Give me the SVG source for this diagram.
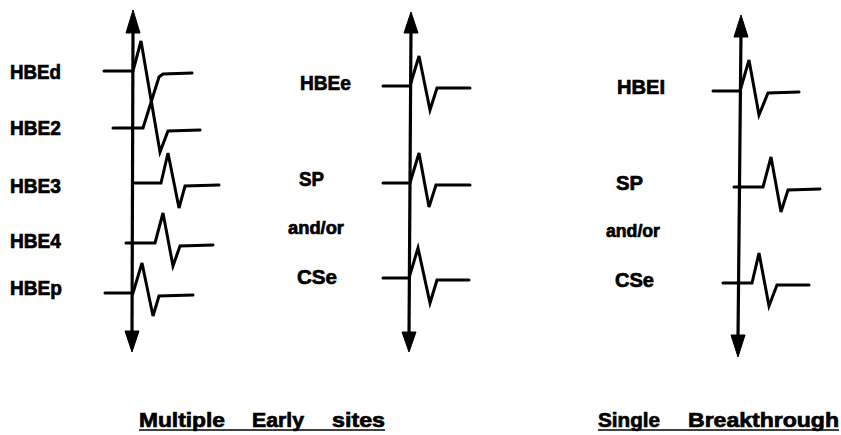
<svg xmlns="http://www.w3.org/2000/svg" width="841" height="435" viewBox="0 0 841 435">
  <style>
    .axis { stroke: #000; stroke-width: 3.2; fill: none; }
    .head { fill: #000; stroke: #000; stroke-width: 1; stroke-linejoin: round; }
    .trace { stroke: #000; stroke-width: 3; fill: none; stroke-linejoin: miter; stroke-linecap: round; }
    .lbl { font-family: "Liberation Sans", Arial, sans-serif; font-weight: bold; font-size: 21px; fill: #000; stroke: #000; stroke-width: 0.7; }
    .small { font-size: 18px; }
    .title { font-family: "Liberation Sans", Arial, sans-serif; font-weight: bold; font-size: 21px; fill: #000; stroke: #000; stroke-width: 0.7; }
    .uline { stroke: #000; stroke-width: 1.6; }
  </style>
  <rect width="841" height="435" fill="#fff"/>

  <!-- time axes with arrowheads at both ends -->
  <g id="connectors">
    <g id="axis-multiple">
      <line class="axis" x1="133" y1="28" x2="132" y2="334"/>
      <polygon class="head" points="133,10 140,33 126,33"/>
      <polygon class="head" points="132,352 125,331 139,331"/>
    </g>
    <g id="axis-early">
      <line class="axis" x1="411" y1="28" x2="409" y2="336"/>
      <polygon class="head" points="411,12 418,33 404,33"/>
      <polygon class="head" points="409,352 402,332 416,332"/>
    </g>
    <g id="axis-single">
      <line class="axis" x1="741" y1="32" x2="738" y2="339"/>
      <polygon class="head" points="741,15 748,37 734,37"/>
      <polygon class="head" points="738,357 731,335 745,335"/>
    </g>
  </g>

  <!-- Multiple early sites: electrogram traces -->
  <g id="hbed">
    <text class="lbl" x="10" y="79" textLength="51" lengthAdjust="spacingAndGlyphs">HBEd</text>
    <polyline class="trace" points="104,71 133,71 141,41 160,152 168,131 200,130"/>
  </g>
  <g id="hbe2">
    <text class="lbl" x="10" y="135" textLength="51" lengthAdjust="spacingAndGlyphs">HBE2</text>
    <polyline class="trace" points="113,128 143,128 159,77 163,74 192,73"/>
  </g>
  <g id="hbe3">
    <text class="lbl" x="10" y="193" textLength="51" lengthAdjust="spacingAndGlyphs">HBE3</text>
    <polyline class="trace" points="133,183 161,183 168,153 179,208 185,186 219,185"/>
  </g>
  <g id="hbe4">
    <text class="lbl" x="10" y="248" textLength="51" lengthAdjust="spacingAndGlyphs">HBE4</text>
    <polyline class="trace" points="126,243 155,243 163,213 173,266 180,246 213,245"/>
  </g>
  <g id="hbep">
    <text class="lbl" x="10" y="295" textLength="52" lengthAdjust="spacingAndGlyphs">HBEp</text>
    <polyline class="trace" points="105,293 133,293 142,263 153,316 159,296 193,295"/>
  </g>

  <!-- middle column -->
  <g id="hbee">
    <text class="lbl" x="300" y="90" textLength="51" lengthAdjust="spacingAndGlyphs">HBEe</text>
    <polyline class="trace" points="383,86 410,86 419,56 430,110 437,88 470,88"/>
  </g>
  <g id="sp-early">
    <text class="lbl" x="299" y="186" textLength="25" lengthAdjust="spacingAndGlyphs">SP</text>
    <polyline class="trace" points="383,183 410,183 419,153 429,207 436,185 470,185"/>
  </g>
  <g id="andor-early">
    <text class="lbl small" x="288" y="234" textLength="56" lengthAdjust="spacingAndGlyphs">and/or</text>
  </g>
  <g id="cse-early">
    <text class="lbl" x="297" y="284" textLength="40" lengthAdjust="spacingAndGlyphs">CSe</text>
    <polyline class="trace" points="383,278 409,278 418,248 430,303 437,280 469,280"/>
  </g>

  <!-- single breakthrough column -->
  <g id="hbei">
    <text class="lbl" x="617" y="94" textLength="48" lengthAdjust="spacingAndGlyphs">HBEI</text>
    <polyline class="trace" points="713,91 740,91 749,60 759,115 768,93 799,92"/>
  </g>
  <g id="sp-single">
    <text class="lbl" x="616" y="190" textLength="27" lengthAdjust="spacingAndGlyphs">SP</text>
    <polyline class="trace" points="734,187 763,187 771,157 781,212 788,190 820,189"/>
  </g>
  <g id="andor-single">
    <text class="lbl small" x="606" y="237" textLength="54" lengthAdjust="spacingAndGlyphs">and/or</text>
  </g>
  <g id="cse-single">
    <text class="lbl" x="615" y="287" textLength="39" lengthAdjust="spacingAndGlyphs">CSe</text>
    <polyline class="trace" points="723,283 752,283 759,253 769,306 777,285 809,285"/>
  </g>

  <!-- underlined captions -->
  <g id="caption-multiple">
    <text class="title" x="139" y="427" textLength="86" lengthAdjust="spacingAndGlyphs">Multiple</text>
    <text class="title" x="252" y="427" textLength="52" lengthAdjust="spacingAndGlyphs">Early</text>
    <text class="title" x="332" y="427" textLength="53" lengthAdjust="spacingAndGlyphs">sites</text>
    <line class="uline" x1="139" y1="430" x2="385" y2="430"/>
  </g>
  <g id="caption-single">
    <text class="title" x="598" y="427" textLength="62" lengthAdjust="spacingAndGlyphs">Single</text>
    <text class="title" x="688" y="427" textLength="151" lengthAdjust="spacingAndGlyphs">Breakthrough</text>
    <line class="uline" x1="598" y1="430" x2="839" y2="430"/>
  </g>
</svg>
